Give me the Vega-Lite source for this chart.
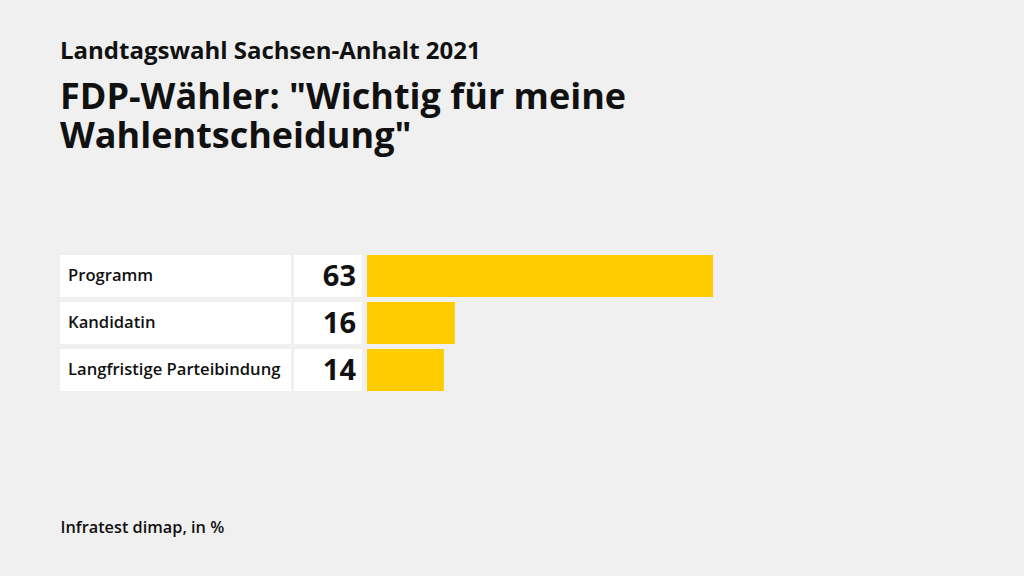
{
  "$schema": "https://vega.github.io/schema/vega-lite/v6.json",
  "autosize": {"type": "none"},
  "width": 1024,
  "height": 141,
  "padding": {"top": 252.5, "bottom": 182.5, "left": 0, "right": 0},
  "background": "#f0f0f0",
  "config": {"view": {"stroke": null}, "font": "Open Sans"},
  "title": {
    "text": "Landtagswahl Sachsen-Anhalt 2021",
    "subtitle": ["FDP-Wähler: \"Wichtig für meine", "Wahlentscheidung\""],
    "anchor": "start",
    "frame": "group",
    "dx": 60,
    "offset": 98,
    "font": "Open Sans",
    "fontSize": 24,
    "fontWeight": "bold",
    "color": "#111111",
    "subtitleFont": "Open Sans",
    "subtitleFontSize": 36,
    "subtitleFontWeight": "bold",
    "subtitleColor": "#111111",
    "subtitleLineHeight": 39,
    "subtitlePadding": 17
  },
  "data": {
    "values": [
      {"label": "Programm", "value": 63},
      {"label": "Kandidatin", "value": 16},
      {"label": "Langfristige Parteibindung", "value": 14}
    ]
  },
  "encoding": {
    "y": {
      "field": "label",
      "type": "nominal",
      "sort": null,
      "scale": {"paddingInner": 0.1064, "paddingOuter": 0.0532},
      "axis": null
    }
  },
  "layer": [
    {
      "mark": {"type": "bar", "color": "white"},
      "encoding": {
        "x": {
          "datum": -55.9,
          "type": "quantitative",
          "scale": {"domain": [-66.83, 119.63], "zero": false, "nice": false},
          "axis": {
            "domain": false, "ticks": false, "labels": false, "grid": false,
            "title": "Infratest dimap, in %",
            "titleFont": "Open Sans", "titleFontSize": 16.3, "titleFontWeight": 600,
            "titleColor": "#111111",
            "titleAnchor": "start", "titleAlign": "left",
            "titleBaseline": "alphabetic", "titleX": 60, "titleY": 139
          }
        },
        "x2": {"datum": -13.84, "type": "quantitative"}
      }
    },
    {
      "mark": {"type": "bar", "color": "white"},
      "encoding": {
        "x": {"datum": -13.29, "type": "quantitative"},
        "x2": {"datum": -0.91, "type": "quantitative"}
      }
    },
    {
      "mark": {"type": "bar", "color": "#ffcc00"},
      "encoding": {
        "x": {"field": "value", "type": "quantitative"},
        "x2": {"datum": 0, "type": "quantitative"}
      }
    },
    {
      "mark": {"type": "text", "align": "left", "baseline": "middle", "fontSize": 16.6, "fontWeight": 600, "color": "#111111", "font": "Open Sans"},
      "encoding": {
        "x": {"datum": -54.44, "type": "quantitative"},
        "text": {"field": "label"}
      }
    },
    {
      "mark": {"type": "text", "align": "right", "baseline": "middle", "fontSize": 29, "fontWeight": "bold", "color": "#111111", "font": "Open Sans", "dy": 1},
      "encoding": {
        "x": {"datum": -2.0, "type": "quantitative"},
        "text": {"field": "value"}
      }
    }
  ]
}
